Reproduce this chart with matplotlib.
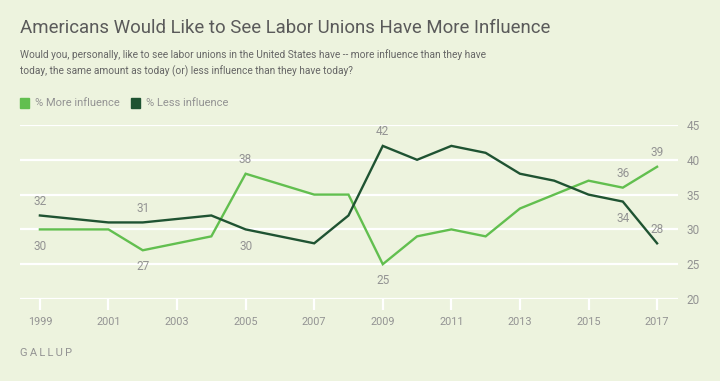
import matplotlib.pyplot as plt

years = [1999, 2001, 2002, 2004, 2005, 2007, 2008, 2009, 2010, 2011, 2012, 2013, 2014, 2015, 2016, 2017]
more_influence = [30, 30, 27, 29, 38, 35, 35, 25, 29, 30, 29, 33, 35, 37, 36, 39]
less_influence = [32, 31, 31, 32, 30, 28, 32, 42, 40, 42, 41, 38, 37, 35, 34, 28]

# which points carry a value label: (year, 'above' / 'below')
more_labels = [(1999, 'below'), (2002, 'below'), (2005, 'above'), (2009, 'below'), (2016, 'above'), (2017, 'above')]
less_labels = [(1999, 'above'), (2002, 'above'), (2005, 'below'), (2009, 'above'), (2016, 'below'), (2017, 'above')]

bg = '#edf3de'
light = '#62bf4f'
dark = '#1f5332'
grey = '#939393'

plt.rcParams['font.family'] = ['Roboto', 'DejaVu Sans']

fig = plt.figure(figsize=(7.2, 3.81), dpi=100, facecolor=bg)
W, H = 720, 381
ax = fig.add_axes([20 / W, 1 - 299 / H, 658 / W, (299 - 125) / H])
ax.set_facecolor(bg)

ax.plot(years, more_influence, color=light, linewidth=1.7, solid_joinstyle='miter')
ax.plot(years, less_influence, color=dark, linewidth=1.7, solid_joinstyle='miter')

ax.set_xlim(1998.42, 2017.61)
ax.set_ylim(20, 45)
ax.set_yticks(range(20, 46, 5))
ax.set_xticks(range(1999, 2018, 2))
ax.yaxis.tick_right()
ax.grid(axis='y', color='white', linewidth=1.6)
ax.set_axisbelow(True)
for s in ax.spines.values():
    s.set_visible(False)
ax.tick_params(axis='y', length=0, pad=6, labelsize=8.5, labelcolor=grey)
ax.tick_params(axis='x', length=8, width=1.6, color='white', pad=5, labelsize=7.8, labelcolor=grey)

def put_labels(series, spec):
    for yr, pos in spec:
        v = series[years.index(yr)]
        dy = 10 if pos == 'above' else -12
        ax.annotate(str(v), (yr, v), xytext=(0, dy), textcoords='offset points',
                    ha='center', va='center', fontsize=8.5, color=grey)

put_labels(more_influence, more_labels)
put_labels(less_influence, less_labels)

fig.text(20 / W, 1 - 28 / H, 'Americans Would Like to See Labor Unions Have More Influence',
         fontsize=13.4, color='#5a5a5a', va='center')
fig.text(20 / W, 1 - 55 / H, 'Would you, personally, like to see labor unions in the United States have -- more influence than they have',
         fontsize=7.3, color='#666666', va='center')
fig.text(20 / W, 1 - 71 / H, 'today, the same amount as today (or) less influence than they have today?',
         fontsize=7.3, color='#666666', va='center')

# legend
fig.patches.append(plt.Rectangle((20 / W, 1 - 108 / H), 9 / W, 10 / H, transform=fig.transFigure, color=light))
fig.text(35 / W, 1 - 103 / H, '% More influence', fontsize=8, color=grey, va='center')
fig.patches.append(plt.Rectangle((131 / W, 1 - 108 / H), 9 / W, 10 / H, transform=fig.transFigure, color=dark))
fig.text(146 / W, 1 - 103 / H, '% Less influence', fontsize=8, color=grey, va='center')

fig.text(20 / W, 1 - 353 / H, '\u2009'.join('GALLUP'), fontsize=8, color=grey, va='center')

fig.savefig('out.png', dpi=100, facecolor=bg)
